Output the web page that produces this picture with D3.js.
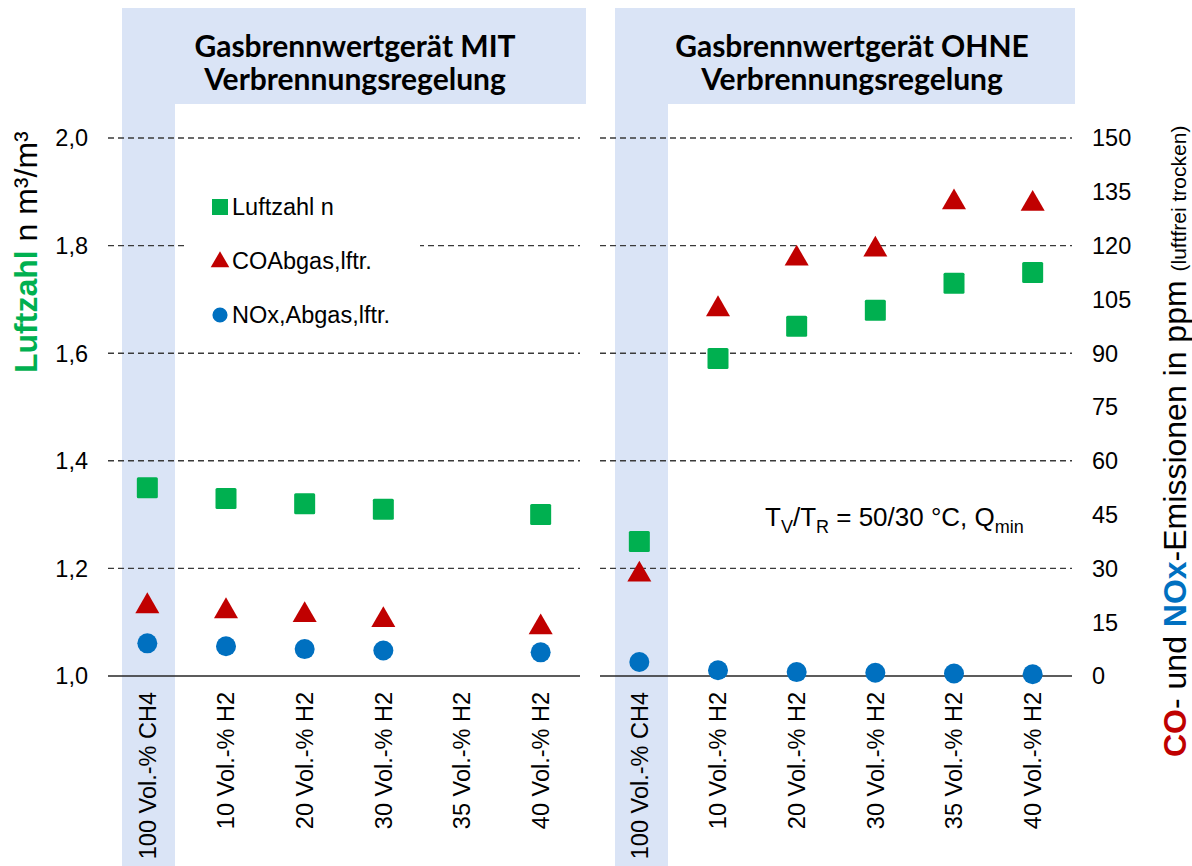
<!DOCTYPE html>
<html>
<head>
<meta charset="utf-8">
<script src="https://cdn.jsdelivr.net/npm/d3@7"></script>
<style>
  body { margin: 0; background: #fff; }
  svg { display: block; }
  text { font-family: "Liberation Sans", Arial, sans-serif; fill: #000; }
</style>
</head>
<body>
<div id="chart"></div>
<script>
// ---- data
const categories = ['100 Vol.-% CH4', '10 Vol.-% H2', '20 Vol.-% H2', '30 Vol.-% H2', '35 Vol.-% H2', '40 Vol.-% H2'];
const panelTitles = [
  ['Gasbrennwertgerät MIT', 'Verbrennungsregelung'],
  ['Gasbrennwertgerät OHNE', 'Verbrennungsregelung']
];
const luftzahlMit  = [1.35, 1.33, 1.32, 1.31, null, 1.30];
const coMit        = [20.3, 18.9, 17.8, 16.4, null, 14.4];
const noxMit       = [9.1, 8.3, 7.5, 7.1, null, 6.6];
const luftzahlOhne = [1.25, 1.59, 1.65, 1.68, 1.73, 1.75];
const coOhne       = [29.1, 103.1, 117.2, 119.7, 132.9, 132.5];
const noxOhne      = [3.9, 1.6, 1.1, 0.9, 0.7, 0.5];
const leftTicks    = [1.0, 1.2, 1.4, 1.6, 1.8, 2.0];
const rightTicks   = [0, 15, 30, 45, 60, 75, 90, 105, 120, 135, 150];
const legendItems  = ['Luftzahl n', 'COAbgas,lftr.', 'NOx,Abgas,lftr.'];

// ---- layout
const W = 1192, H = 866;
const GREEN = '#00b050', RED = '#c00000', BLUE = '#0070c0', PANEL_BG = '#dae4f6';
const fmt = d3.format('.1f');

let svg = d3.select('#chart').append('svg').attr('width', W).attr('height', H);

let yL = d3.scaleLinear().domain([1, 2]).range([676, 138]);
let yR = d3.scaleLinear().domain([0, 150]).range([676, 138]);

let panels = [
  { range: [108, 580], box: [122, 586], titleX: 355, lz: luftzahlMit, co: coMit, nox: noxMit },
  { range: [600, 1072], box: [615, 1075], titleX: 852, lz: luftzahlOhne, co: coOhne, nox: noxOhne }
];

panels.forEach((p, pi) => {
  p.x = d3.scaleBand().domain(categories).range(p.range);
  let bw = p.x.bandwidth();

  // blue header + first column strip
  svg.append('rect').attr('x', p.box[0]).attr('y', 8)
    .attr('width', p.box[1] - p.box[0]).attr('height', 96).attr('fill', PANEL_BG);
  svg.append('rect').attr('x', p.box[0]).attr('y', 8)
    .attr('width', 53).attr('height', H - 8).attr('fill', PANEL_BG);

  let t = svg.append('text').attr('text-anchor', 'middle')
    .style('font-family', 'Lato, "Open Sans", sans-serif').style('font-weight', 700).style('font-size', '30px');
  panelTitles[pi].forEach((line, li) => {
    t.append('tspan').attr('x', p.titleX).attr('y', 57 + li * 33).text(line);
  });

  // dashed grid
  svg.append('g').selectAll('line')
    .data(leftTicks.filter(d => d > 1))
    .enter().append('line')
      .attr('x1', p.range[0]).attr('x2', p.range[1])
      .attr('y1', d => yL(d)).attr('y2', d => yL(d))
      .attr('stroke', '#3a3a3a').attr('stroke-width', 1.4).attr('stroke-dasharray', '6,4');

  // base line
  svg.append('line')
    .attr('x1', p.range[0]).attr('x2', p.range[1])
    .attr('y1', yL(1)).attr('y2', yL(1))
    .attr('stroke', '#262626').attr('stroke-width', 1.6);

  // category labels
  svg.append('g').selectAll('text')
    .data(categories)
    .enter().append('text')
      .attr('transform', d => `translate(${p.x(d) + bw / 2},692) rotate(-90)`)
      .attr('text-anchor', 'end').attr('dy', '0.36em')
      .style('font-size', '23.5px').attr('fill', '#1a1a1a')
      .text(d => d);
});

// ---- legend (white box over the grid)
let lg = svg.append('g');
lg.append('rect').attr('x', 186).attr('y', 178).attr('width', 234).attr('height', 160).attr('fill', '#fff');
let sym = [d3.symbolSquare, d3.symbolTriangle, d3.symbolCircle];
let symColor = [GREEN, RED, BLUE];
let symSize = [256, 150, 180];
legendItems.forEach((d, i) => {
  let cy = 207 + i * 54;
  lg.append('path').attr('transform', `translate(220,${cy + (i === 1 ? 1 : 0)})`)
    .attr('d', d3.symbol().type(sym[i]).size(symSize[i])()).attr('fill', symColor[i]);
  lg.append('text').attr('x', 232).attr('y', cy + 8).style('font-size', '23.5px').attr('fill', '#1a1a1a').text(d);
});

// ---- markers
panels.forEach(p => {
  let bw = p.x.bandwidth();
  let cx = i => p.x(categories[i]) + bw / 2;
  let g = svg.append('g');

  let tri = d3.symbol().type(d3.symbolTriangle).size(250)();
  g.selectAll('path.co').data(p.co.map((v, i) => ({ v, i })).filter(d => d.v != null))
    .enter().append('path').attr('class', 'co')
      .attr('transform', d => `translate(${cx(d.i)},${yR(d.v) + 3})`)
      .attr('d', tri).attr('fill', RED);

  g.selectAll('circle').data(p.nox.map((v, i) => ({ v, i })).filter(d => d.v != null))
    .enter().append('circle')
      .attr('cx', d => cx(d.i)).attr('cy', d => yR(d.v)).attr('r', 10).attr('fill', BLUE);

  g.selectAll('rect').data(p.lz.map((v, i) => ({ v, i })).filter(d => d.v != null))
    .enter().append('rect')
      .attr('x', d => cx(d.i) - 10.5).attr('y', d => yL(d.v) - 10.5)
      .attr('width', 21).attr('height', 21).attr('rx', 1.5).attr('fill', GREEN);
});

// ---- axes tick labels
svg.append('g').selectAll('text').data(leftTicks)
  .enter().append('text')
    .attr('x', 88).attr('y', d => yL(d)).attr('dy', '0.36em').attr('text-anchor', 'end')
    .style('font-size', '23.5px').attr('fill', '#1a1a1a')
    .text(d => fmt(d).replace('.', ','));

svg.append('g').selectAll('text').data(rightTicks)
  .enter().append('text')
    .attr('x', 1092).attr('y', d => yR(d)).attr('dy', '0.36em')
    .style('font-size', '23.5px').attr('fill', '#1a1a1a')
    .text(d => d);

// ---- axis titles
let lt = svg.append('text').attr('transform', 'translate(37,373) rotate(-90)').style('font-size', '32px');
lt.append('tspan').style('font-weight', 700).attr('fill', GREEN).text('Luftzahl');
lt.append('tspan').text(' n m³/m³');

let rt = svg.append('text').attr('transform', 'translate(1186,757) rotate(-90)').style('font-size', '32px');
rt.append('tspan').style('font-weight', 700).attr('fill', RED).text('CO');
rt.append('tspan').text('- und ');
rt.append('tspan').style('font-weight', 700).attr('fill', BLUE).text('NOx');
rt.append('tspan').text('-Emissionen in ppm ');
rt.append('tspan').style('font-size', '21px').text('(luftfrei trocken)');

// ---- condition note
let note = svg.append('text').attr('x', 765).attr('y', 526).style('font-size', '26px').attr('fill', '#1a1a1a');
note.append('tspan').text('T');
note.append('tspan').style('font-size', '18px').attr('dy', 7).text('V');
note.append('tspan').attr('dy', -7).text('/T');
note.append('tspan').style('font-size', '18px').attr('dy', 7).text('R');
note.append('tspan').attr('dy', -7).text(' = 50/30 °C, Q');
note.append('tspan').style('font-size', '18px').attr('dy', 7).text('min');
</script>
</body>
</html>
